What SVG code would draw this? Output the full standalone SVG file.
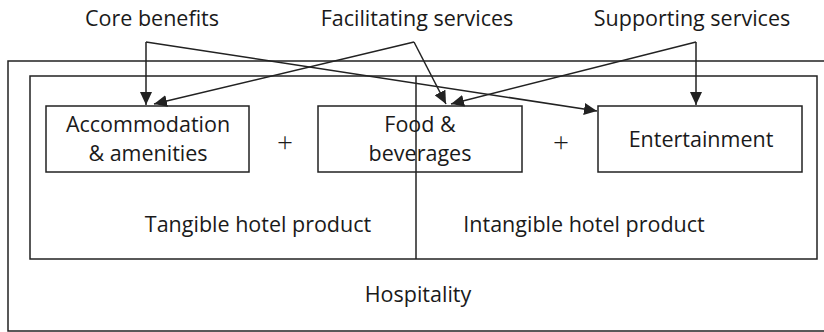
<svg xmlns="http://www.w3.org/2000/svg" width="824" height="332" viewBox="0 0 824 332">
<style>
.box{fill:none;stroke:#222;stroke-width:1.5}
.t{font-family:"Open Sans","Noto Sans",sans-serif;font-size:21.5px;fill:#1a1a1a;text-anchor:middle}
.p{font-family:"Open Sans","Noto Sans",sans-serif;font-size:28px;font-weight:300;fill:#1a1a1a;text-anchor:middle}
.c{fill:none;stroke:#222;stroke-width:1.5}
</style>
<defs>
<marker id="ah" markerUnits="userSpaceOnUse" markerWidth="14" markerHeight="12" refX="13" refY="6" orient="auto">
<path d="M0,0 L13,6 L0,12 z" fill="#222"/>
</marker>
</defs>
<g id="hospitality">
<rect class="box" x="8" y="61" width="818" height="270"/>
<text class="t" x="418" y="302">Hospitality</text>
</g>
<g id="hotel-product">
<rect class="box" x="30" y="76" width="787" height="183"/>
<line class="box" x1="416" y1="76" x2="416" y2="259"/>
</g>
<g id="tangible">
<text class="t" x="258" y="232">Tangible hotel product</text>
</g>
<g id="intangible">
<text class="t" x="584" y="232">Intangible hotel product</text>
</g>
<g id="accommodation">
<rect class="box" x="46" y="106" width="203" height="66"/>
<text class="t" x="148" y="132">Accommodation</text>
<text class="t" x="148" y="161">&amp; amenities</text>
</g>
<g id="food">
<rect class="box" x="318" y="106" width="204" height="66"/>
<text class="t" x="420" y="132">Food &amp;</text>
<text class="t" x="420" y="161">beverages</text>
</g>
<g id="entertainment">
<rect class="box" x="598" y="106" width="204" height="66"/>
<text class="t" x="701" y="147">Entertainment</text>
</g>
<g id="plus1"><text class="p" x="285" y="152">+</text></g>
<g id="plus2"><text class="p" x="561" y="152">+</text></g>
<g id="core-benefits"><text class="t" x="152" y="26">Core benefits</text></g>
<g id="facilitating-services"><text class="t" x="417" y="26">Facilitating services</text></g>
<g id="supporting-services"><text class="t" x="692" y="26">Supporting services</text></g>
<g id="connectors">
<path class="c" d="M146,42 L146,105" marker-end="url(#ah)"/>
<path class="c" d="M146,42 L597,111" marker-end="url(#ah)"/>
<path class="c" d="M414,42 L154,104" marker-end="url(#ah)"/>
<path class="c" d="M414,42 L446,104" marker-end="url(#ah)"/>
<path class="c" d="M696,42 L696,105" marker-end="url(#ah)"/>
<path class="c" d="M696,42 L451,104" marker-end="url(#ah)"/>
</g>
</svg>
